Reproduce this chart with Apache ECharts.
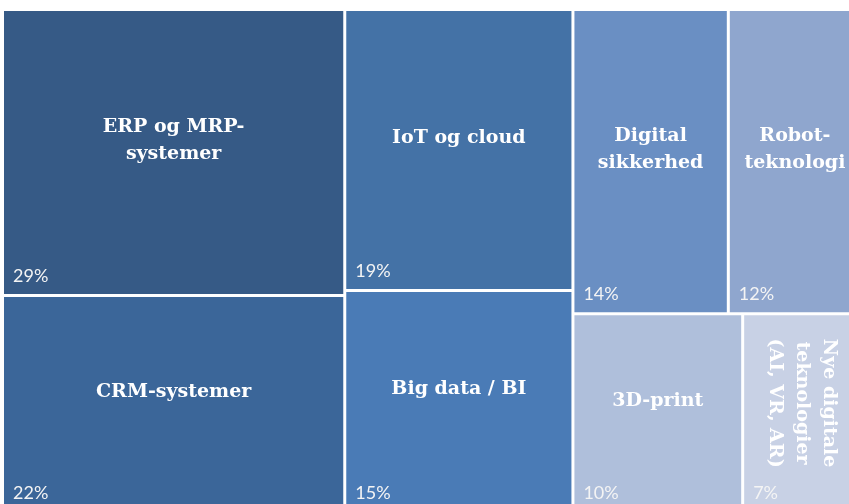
<!DOCTYPE html>
<html>
<head>
<meta charset="utf-8">
<script src="https://cdn.jsdelivr.net/npm/echarts@6/dist/echarts.min.js"></script>
<style>
  html, body { margin: 0; background: #fff; }
  #chart { width: 849px; height: 504px; }
</style>
</head>
<body>
<div id="chart"></div>
<script>
const names = [
  'ERP og MRP-\nsystemer',
  'CRM-systemer',
  'IoT og cloud',
  'Big data / BI',
  'Digital\nsikkerhed',
  'Robot-\nteknologi',
  '3D-print',
  'Nye digitale\nteknologier\n(AI, VR, AR)',
]
const shares = [29, 22, 19, 15, 14, 12, 10, 7]
const colors = ['#365a86', '#3b6699', '#4472a6', '#4a7bb6', '#6a8fc3', '#8fa6ce', '#afbfdb', '#c8d1e5']

// grouping of the boxes: left block = two columns, right block = two rows
const groups = [[[0, 1], [2, 3]], [[4, 5], [6, 7]]]

const build = (g, leaf) =>
  Array.isArray(g) ? { name: '', children: g.map((x) => build(x, leaf)) } : leaf(g)

const base = {
  type: 'treemap',
  left: 4,
  top: 11,
  width: 856,
  height: 500,
  squareRatio: 1.25,
  roam: false,
  nodeClick: false,
  breadcrumb: { show: false },
  emphasis: { disabled: true },
}

const chart = echarts.init(document.getElementById('chart'))
chart.setOption({
  animation: false,
  series: [
    {
      ...base,
      itemStyle: { borderWidth: 0, gapWidth: 3, borderColor: '#fff' },
      label: {
        show: true,
        position: 'inside',
        offset: [0, -12],
        color: '#fff',
        fontFamily: 'DejaVu Serif',
        fontWeight: 'bold',
        fontSize: 19,
        lineHeight: 27,
        align: 'center',
        overflow: 'none',
      },
      data: build(groups, (i) => ({
        name: names[i],
        value: shares[i],
        itemStyle: { color: colors[i] },
        label: i === 7 ? { rotate: -90, offset: [-10, 0] } : undefined,
      })).children,
    },
    {
      // transparent copy, only for the share labels in the bottom left corner
      ...base,
      itemStyle: { borderWidth: 0, gapWidth: 3, borderColor: 'rgba(0,0,0,0)' },
      label: {
        show: true,
        position: 'insideBottomLeft',
        distance: 9,
        padding: 0,
        color: '#f4f4f4',
        fontFamily: 'Lato',
        fontSize: 18,
        overflow: 'none',
        formatter: (p) => p.value + '%',
      },
      data: build(groups, (i) => ({
        name: names[i],
        value: shares[i],
        itemStyle: { color: 'rgba(0,0,0,0)' },
      })).children,
    },
  ],
})
</script>
</body>
</html>
